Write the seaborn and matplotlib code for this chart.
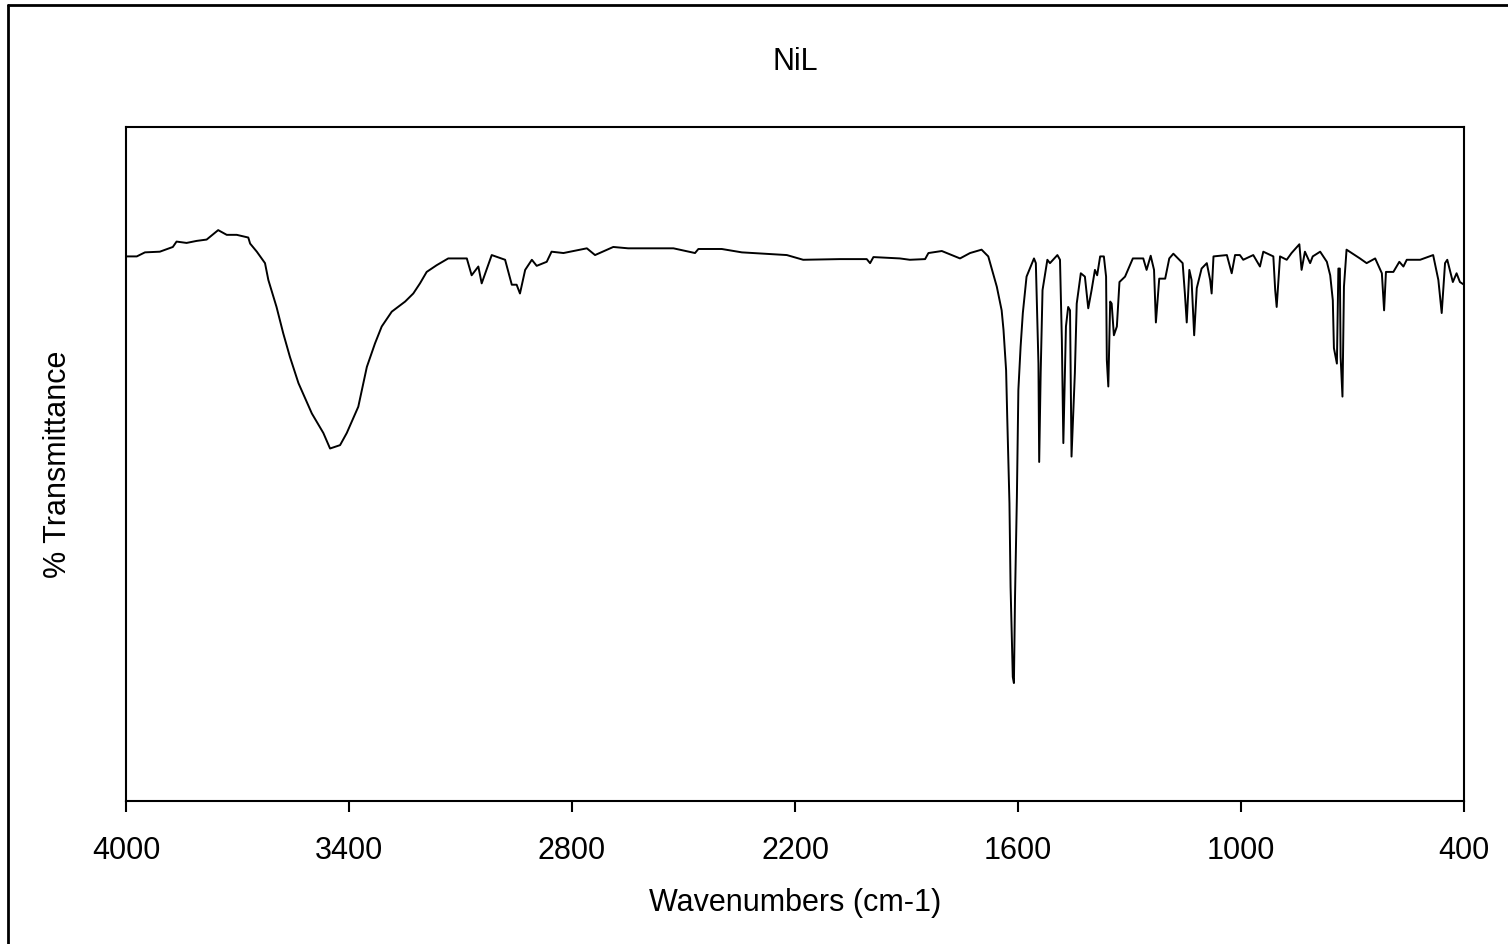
import matplotlib
matplotlib.use("Agg")
import matplotlib.pyplot as plt
from matplotlib.lines import Line2D
import seaborn as sns
import pandas as pd

# ---- data ----
wavenumber = [
    4000, 3971, 3949, 3909, 3874, 3864, 3837, 3810, 3783, 3752, 3729, 3702, 3671, 3666,
    3648, 3626, 3617, 3595, 3577, 3559, 3536, 3500, 3469, 3451, 3424, 3406, 3375, 3352,
    3330, 3312, 3285, 3249, 3227, 3209, 3191, 3164, 3133, 3083, 3070, 3052, 3043, 3016,
    2980, 2962, 2949, 2940, 2926, 2908, 2895, 2868, 2855, 2823, 2760, 2738, 2689, 2649,
    2581, 2527, 2469, 2460, 2397, 2343, 2222, 2178, 2079, 2007, 1998, 1989, 1918, 1891,
    1850, 1841, 1805, 1756, 1729, 1698, 1680, 1657, 1644, 1639, 1632, 1629, 1623, 1620,
    1614, 1611, 1608, 1603, 1599, 1593, 1587, 1577, 1566, 1557, 1552, 1545, 1543, 1539,
    1534, 1521, 1514, 1494, 1487, 1482, 1478, 1471, 1465, 1460, 1456, 1447, 1442, 1431,
    1420, 1411, 1402, 1393, 1387, 1379, 1369, 1363, 1361, 1357, 1352, 1348, 1342, 1334,
    1327, 1312, 1291, 1263, 1254, 1243, 1234, 1229, 1220, 1204, 1193, 1182, 1157, 1151,
    1146, 1139, 1133, 1126, 1119, 1106, 1092, 1083, 1079, 1074, 1038, 1025, 1016, 1003,
    994, 967, 949, 940, 913, 908, 904, 895, 877, 864, 843, 837, 828, 814,
    807, 787, 769, 760, 753, 750, 742, 738, 734, 732, 727, 723, 716, 680,
    662, 639, 621, 615, 610, 590, 574, 563, 554, 518, 483, 469, 460, 451,
    445, 430, 420, 411, 400,
]
transmittance = [
    80.8, 80.8, 81.4, 81.5, 82.2, 83.0, 82.8, 83.1, 83.3, 84.7, 84.0, 84.0, 83.6, 82.7,
    81.5, 79.8, 77.3, 73.3, 69.4, 65.9, 62.0, 57.5, 54.6, 52.3, 52.8, 54.6, 58.5, 64.4,
    67.9, 70.4, 72.6, 74.1, 75.3, 76.8, 78.5, 79.5, 80.5, 80.5, 78.0, 79.3, 76.8, 81.0,
    80.3, 76.6, 76.6, 75.3, 78.8, 80.3, 79.4, 80.0, 81.5, 81.3, 82.0, 81.0, 82.2, 82.0,
    82.0, 82.0, 81.3, 81.9, 81.9, 81.4, 81.0, 80.3, 80.4, 80.4, 79.8, 80.7, 80.5, 80.3,
    80.4, 81.3, 81.6, 80.5, 81.3, 81.8, 80.8, 76.3, 72.8, 69.9, 63.9, 57.0, 44.2, 31.8,
    18.4, 17.5, 30.3, 45.1, 61.0, 67.4, 72.4, 77.8, 79.3, 80.5, 79.8, 64.9, 50.3, 63.5,
    75.8, 80.3, 79.8, 81.0, 80.3, 68.4, 53.1, 70.4, 73.3, 72.8, 51.1, 63.5, 73.8, 78.3,
    77.8, 73.1, 75.8, 78.8, 78.0, 80.8, 80.8, 77.8, 65.4, 61.5, 74.1, 73.8, 69.1, 70.4,
    77.0, 77.8, 80.5, 80.5, 78.8, 80.9, 78.8, 71.0, 77.5, 77.5, 80.5, 81.2, 79.8, 75.3,
    71.0, 78.8, 77.3, 69.1, 76.1, 79.0, 79.8, 77.3, 75.3, 80.8, 81.0, 78.3, 81.0, 81.0,
    80.3, 81.0, 79.3, 81.5, 80.8, 75.8, 73.3, 80.8, 80.3, 81.3, 82.6, 78.8, 81.5, 79.8,
    80.8, 81.5, 80.0, 78.0, 74.3, 67.2, 64.9, 79.0, 79.0, 65.9, 60.0, 76.3, 81.8, 80.5,
    79.8, 80.5, 78.3, 72.8, 78.5, 78.5, 80.0, 79.3, 80.3, 80.3, 81.0, 77.3, 72.4, 79.8,
    80.3, 77.0, 78.3, 77.0, 76.6,
]
x_ticks = [4000, 3400, 2800, 2200, 1600, 1000, 400]
title_text = "NiL"
x_label = "Wavenumbers (cm-1)"
y_label = "% Transmittance"

df = pd.DataFrame({"wn": wavenumber, "T": transmittance})

sns.set_style("white")
plt.rcParams["font.family"] = ["Liberation Sans", "DejaVu Sans"]
plt.rcParams["text.color"] = "black"
plt.rcParams["axes.labelcolor"] = "black"
plt.rcParams["xtick.color"] = "black"
plt.rcParams["ytick.color"] = "black"

fig = plt.figure(figsize=(15.08, 9.44), dpi=100)
ax = fig.add_axes([126 / 1508, 1 - 801 / 944, 1338 / 1508, 674 / 944])

sns.lineplot(data=df, x="wn", y="T", sort=False, color="black",
             linewidth=1.4, ax=ax, estimator=None)

ax.set_xlim(4000, 400)
ax.set_ylim(0, 100)
ax.set_xticks(x_ticks)
ax.set_xticklabels([str(t) for t in x_ticks])
ax.set_yticks([])
ax.tick_params(axis="x", direction="out", length=8, width=1.5, colors="black",
               labelsize=22, pad=17, bottom=True)
for s in ax.spines.values():
    s.set_visible(True)
    s.set_color("black")
    s.set_linewidth(1.5)

ax.set_xlabel(x_label, fontsize=22, color="black")
ax.set_ylabel(y_label, fontsize=22, color="black")
ax.xaxis.set_label_coords(0.5, (801 - 903) / 674)
ax.xaxis.label.set_va("center")
ax.yaxis.set_label_coords((58 - 126) / 1338, 0.5)
ax.yaxis.label.set_va("center")

ax.text(0.5, (801 - 62) / 674, title_text, transform=ax.transAxes,
        ha="center", va="center", fontsize=22, color="black")

# outer frame (left and top edges visible in the reference)
fig.add_artist(Line2D([8 / 1508, 8 / 1508], [0, 1 - 5 / 944], transform=fig.transFigure,
                      color="black", linewidth=2))
fig.add_artist(Line2D([8 / 1508, 1], [1 - 5 / 944, 1 - 5 / 944], transform=fig.transFigure,
                      color="black", linewidth=2))

fig.savefig("out.png", dpi=100, facecolor="white")
